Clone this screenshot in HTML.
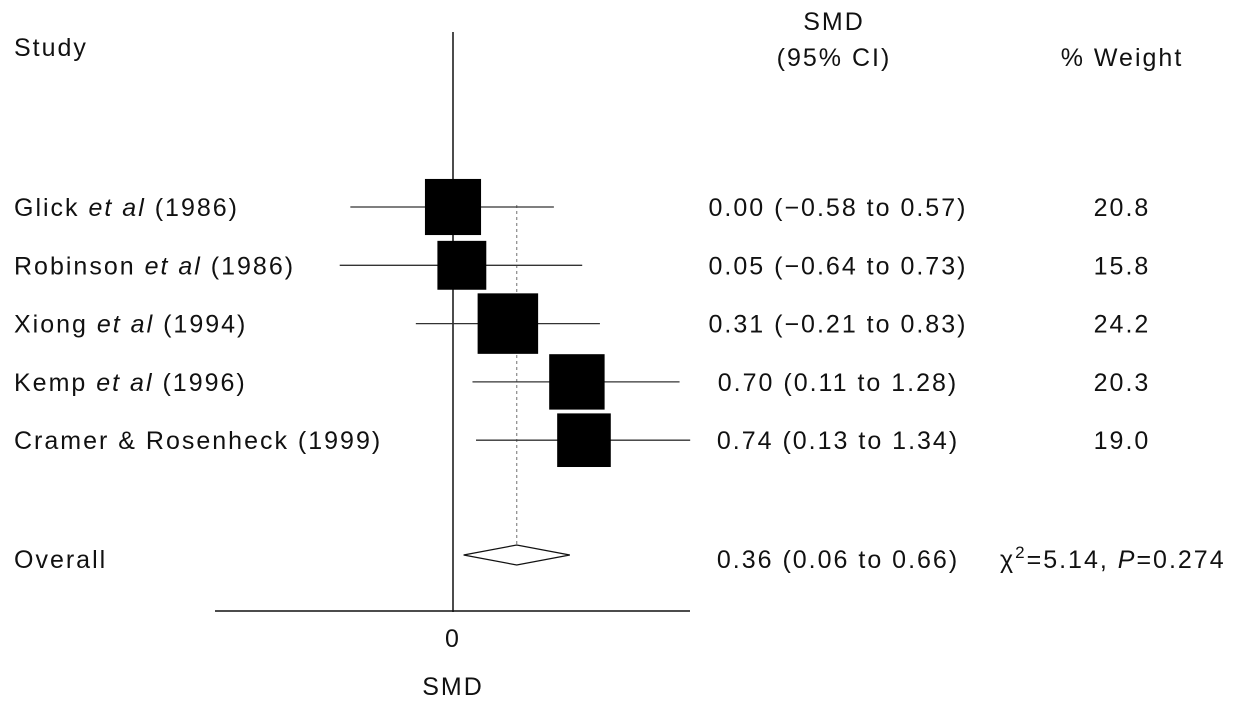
<!DOCTYPE html>
<html><head><meta charset="utf-8"><style>
body{margin:0;background:#fff;}
svg{display:block;font-family:"Liberation Sans",sans-serif;fill:#111;}
text{letter-spacing:2px;}
</style></head><body>
<svg id="c" width="1233" height="704" viewBox="0 0 1233 704">
<text x="14" y="56" font-size="25">Study</text>
<text x="834" y="30" font-size="25" text-anchor="middle">SMD</text>
<text x="834" y="66" font-size="25" text-anchor="middle">(95% CI)</text>
<text x="1122" y="66" font-size="25" text-anchor="middle">% Weight</text>
<text x="453" y="647" font-size="25" text-anchor="middle">0</text>
<text x="453" y="695" font-size="25" text-anchor="middle">SMD</text>
<text x="14" y="568" font-size="25">Overall</text>
<text x="838" y="568" font-size="25" text-anchor="middle">0.36 (0.06 to 0.66)</text>
<text x="1000" y="568" font-size="25">χ<tspan dy="-10" font-size="17">2</tspan><tspan dy="10">=5.14, </tspan><tspan font-style="italic">P</tspan>=0.274</text>
</svg>
<script>
const studies=["Glick","Robinson","Xiong","Kemp","Cramer & Rosenheck (1999)"];
const labels=[["Glick ","et al"," (1986)"],["Robinson ","et al"," (1986)"],["Xiong ","et al"," (1994)"],["Kemp ","et al"," (1996)"],["Cramer & Rosenheck (1999)","",""]];
const est=[0.00,0.05,0.31,0.70,0.74];
const lo=[-0.58,-0.64,-0.21,0.11,0.13];
const hi=[0.57,0.73,0.83,1.28,1.34];
const weights=[20.8,15.8,24.2,20.3,19.0];
const ciText=["0.00 (−0.58 to 0.57)","0.05 (−0.64 to 0.73)","0.31 (−0.21 to 0.83)","0.70 (0.11 to 1.28)","0.74 (0.13 to 1.34)"];
const overall=[0.36,0.06,0.66];
const svg=document.getElementById('c');const NS="http://www.w3.org/2000/svg";
const X=v=>453+v*177;
const rowY=i=>207+i*58.3;
function mk(t,a){const e=document.createElementNS(NS,t);for(const k in a)e.setAttribute(k,a[k]);svg.appendChild(e);return e;}
let e;
e=mk('line',{x1:X(0),x2:X(0),y1:32,y2:612,stroke:'#111','stroke-width':1.5});


e=mk('line',{x1:215,x2:690,y1:611,y2:611,stroke:'#111','stroke-width':1.5});


e=mk('line',{x1:X(overall[0]),x2:X(overall[0]),y1:205,y2:545,stroke:'#888','stroke-width':1.2,'stroke-dasharray':'3,3'});


for(let i=0;i<est.length;i++){
 const y=rowY(i);
 e=mk('line',{x1:X(lo[i]),x2:X(hi[i]),y1:y,y2:y,stroke:'#333','stroke-width':1.3});
 
 
 const s=12.3*Math.sqrt(weights[i]);
 e=mk('rect',{x:X(est[i])-s/2,y:y-s/2,width:s,height:s,fill:'#000'});
 
 
 e=mk('text',{x:14,y:y+9,'font-size':25});
 
 
 const l=labels[i];
 e.innerHTML=l[0]+(l[1]?'<tspan font-style="italic">'+l[1]+'</tspan>':'')+l[2];
 e=mk('text',{x:838,y:y+9,'font-size':25,'text-anchor':'middle'});
 
 
 e.textContent=ciText[i];
 e=mk('text',{x:1122,y:y+9,'font-size':25,'text-anchor':'middle'});
 
 
 e.textContent=weights[i].toFixed(1);
}
const dy=555;
e=mk('polygon',{points:`${X(overall[1])},${dy} ${X(overall[0])},${dy-10} ${X(overall[2])},${dy} ${X(overall[0])},${dy+10}`,fill:'#fff',stroke:'#111','stroke-width':1.2});


</script>
</body></html>
